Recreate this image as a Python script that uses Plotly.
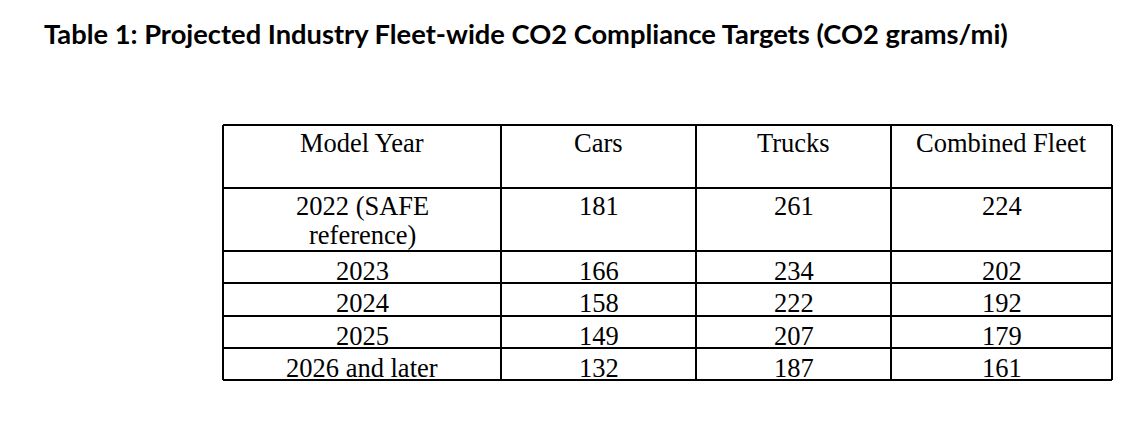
import plotly.graph_objects as go

# ---- data ----
title_text = "Table 1: Projected Industry Fleet-wide CO2 Compliance Targets (CO2 grams/mi)"
headers = ["Model Year", "Cars", "Trucks", "Combined Fleet"]
model_years = ["2022 (SAFE\nreference)", "2023", "2024", "2025", "2026 and later"]
cars = [181, 166, 158, 149, 132]
trucks = [261, 234, 222, 207, 187]
combined = [224, 202, 192, 179, 161]

# ---- layout constants (pixel geometry of the table) ----
W, H = 1144, 426
col_edges = [223, 501, 696, 891, 1112]
row_edges = [125, 188, 251, 283, 316, 348, 380]
first_line_offset = [18, 18, 20, 20, 20, 20]
line_gap = 29
body_font = dict(family="Liberation Serif, Times New Roman, serif", size=26.5, color="black")

fig = go.Figure()
fig.add_trace(go.Scatter(x=[0, W], y=[0, H], mode="markers", marker=dict(opacity=0),
                         hoverinfo="skip", showlegend=False))

shapes = []
for x in col_edges:
    shapes.append(dict(type="line", xref="x", yref="y", x0=x, x1=x,
                       y0=row_edges[0], y1=row_edges[-1], line=dict(color="black", width=2)))
for y in row_edges:
    shapes.append(dict(type="line", xref="x", yref="y", x0=col_edges[0], x1=col_edges[-1],
                       y0=y, y1=y, line=dict(color="black", width=2)))

rows = [headers] + [[my, str(c), str(t), str(k)] for my, c, t, k in zip(model_years, cars, trucks, combined)]

annotations = []
for r, row in enumerate(rows):
    top = row_edges[r]
    for c, txt in enumerate(row):
        cx = (col_edges[c] + col_edges[c + 1]) / 2
        for li, line in enumerate(str(txt).split("\n")):
            annotations.append(dict(x=cx, y=top + first_line_offset[r] + li * line_gap,
                                    xref="x", yref="y", text=line, showarrow=False,
                                    xanchor="center", yanchor="middle", borderpad=0,
                                    font=body_font))

annotations.append(dict(x=43, y=33, xref="x", yref="y", text="<b>" + title_text + "</b>",
                        showarrow=False, xanchor="left", yanchor="middle", borderpad=0,
                        font=dict(family="Lato, Open Sans, sans-serif", size=27.3, color="black")))

fig.update_layout(
    width=W, height=H, autosize=False,
    margin=dict(l=0, r=0, t=0, b=0),
    paper_bgcolor="white", plot_bgcolor="white",
    xaxis=dict(range=[0, W], visible=False, fixedrange=True),
    yaxis=dict(range=[H, 0], visible=False, fixedrange=True),
    shapes=shapes, annotations=annotations,
)

fig.write_html("out.html", config={"displayModeBar": False},
               post_script="document.body.style.margin='0px';")
